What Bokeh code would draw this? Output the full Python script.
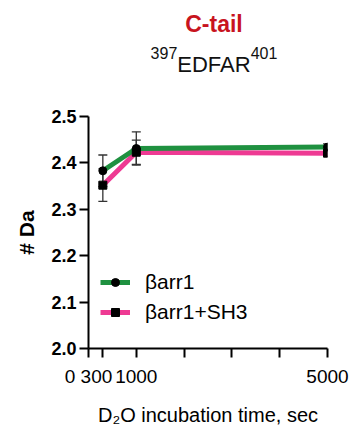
from bokeh.plotting import figure
from bokeh.models import (ColumnDataSource, Whisker, TeeHead, Legend, LegendItem, Div,
                          FixedTicker, PrintfTickFormatter)
from bokeh.layouts import column
from bokeh.embed import file_html
from bokeh.resources import INLINE

# ---- data ----
times = [300, 1000, 5000]
arr1_mean = [2.383, 2.431, 2.434]
arr1_err = [0.034, 0.036, 0.007]
sh3_mean = [2.352, 2.423, 2.421]
sh3_err = [0.035, 0.026, 0.007]
series_names = ["βarr1", "βarr1+SH3"]
x_ticks = [0, 300, 1000, 2000, 3000, 4000, 5000]
x_tick_labels = {0: "0 300", 300: "", 1000: "1000", 2000: "", 3000: "", 4000: "", 5000: "5000"}
y_ticks = [2.0, 2.1, 2.2, 2.3, 2.4, 2.5]
title_text = "C-tail"
sub_left, sub_main, sub_right = "397", "EDFAR", "401"
x_label = "D₂O incubation time, sec"
y_label = "# Da"

GREEN = "#1f9140"
PINK = "#ee3a93"
FONT = "Liberation Sans"
HEAD_H = 90

sup_style = "font-size:16px; vertical-align:13px; line-height:0;"
head_html = (
    '<div style="width:353px; padding-left:75px; box-sizing:border-box; text-align:center; '
    "font-family:'Liberation Sans', Arial, sans-serif; color:#111111;\">"
    f'<div style="margin:10px 0 0 0; height:28px; line-height:28px; font-size:23px; '
    f'font-weight:bold; color:#c8141e;">{title_text}</div>'
    f'<div style="margin:14px 0 0 0; height:26px; line-height:26px; font-size:22px;">'
    f'<span style="{sup_style}">{sub_left}</span>{sub_main}<span style="{sup_style}">{sub_right}</span></div>'
    '</div>'
)
head = Div(text=head_html, width=353, height=HEAD_H, margin=(0, 0, 0, 0))

p = figure(width=353, height=428 - HEAD_H, x_range=(0, 5000), y_range=(2.0, 2.5),
           output_backend="svg", toolbar_location=None, margin=(0, 0, 0, 0),
           min_border_left=88, min_border_right=26, min_border_top=116 - HEAD_H, min_border_bottom=72)
p.outline_line_color = None
p.grid.visible = False

# axes
for ax in (p.xaxis[0], p.yaxis[0]):
    ax.axis_line_width = 2
    ax.axis_line_color = "black"
    ax.major_tick_line_width = 2
    ax.major_tick_line_color = "black"
    ax.major_tick_in = 0
    ax.major_tick_out = 9
    ax.minor_tick_line_color = None
    ax.major_label_text_font = FONT
    ax.major_label_text_color = "black"
    ax.axis_label_text_font = FONT
    ax.axis_label_text_color = "black"

p.yaxis.ticker = FixedTicker(ticks=y_ticks)
p.yaxis.formatter = PrintfTickFormatter(format="%.1f")
p.yaxis.major_label_text_font_size = "18px"
p.yaxis.major_label_text_font_style = "bold"
p.yaxis.major_label_standoff = 3
p.yaxis.axis_label = y_label
p.yaxis.axis_label_text_font_size = "21px"
p.yaxis.axis_label_text_font_style = "bold"
p.yaxis.axis_label_standoff = 10

p.xaxis.ticker = FixedTicker(ticks=x_ticks)
p.xaxis.major_label_overrides = x_tick_labels
p.xaxis.major_label_text_font_size = "19px"
p.xaxis.major_label_standoff = 8
p.xaxis.axis_label = x_label
p.xaxis.axis_label_text_font_size = "20px"
p.xaxis.axis_label_text_font_style = "normal"
p.xaxis.axis_label_standoff = 14

src1 = ColumnDataSource(dict(x=times, y=arr1_mean,
                             lo=[m - e for m, e in zip(arr1_mean, arr1_err)],
                             hi=[m + e for m, e in zip(arr1_mean, arr1_err)]))
src2 = ColumnDataSource(dict(x=times, y=sh3_mean,
                             lo=[m - e for m, e in zip(sh3_mean, sh3_err)],
                             hi=[m + e for m, e in zip(sh3_mean, sh3_err)]))

for src in (src1, src2):
    w = Whisker(source=src, base="x", lower="lo", upper="hi", line_color="#333333", line_width=1.3,
                upper_head=TeeHead(size=9, line_color="#333333", line_width=1.3),
                lower_head=TeeHead(size=9, line_color="#333333", line_width=1.3))
    p.add_layout(w)

l2 = p.line("x", "y", source=src2, line_color=PINK, line_width=5)
l1 = p.line("x", "y", source=src1, line_color=GREEN, line_width=5)
s2 = p.scatter("x", "y", source=src2, marker="square", size=8, fill_color="black", line_color="black")
s1 = p.scatter("x", "y", source=src1, marker="circle", size=8, fill_color="black", line_color="black")

legend = Legend(items=[LegendItem(label=series_names[0], renderers=[l1, s1]),
                       LegendItem(label=series_names[1], renderers=[l2, s2])],
                location=(12, 24), glyph_width=30, glyph_height=20, label_height=20,
                spacing=6, padding=0, margin=0, label_standoff=15,
                label_text_font=FONT, label_text_font_size="21px", label_text_color="black",
                background_fill_alpha=0, border_line_color=None)
p.add_layout(legend, "center")

page = column(head, p, spacing=0)
open("out.html", "w").write(file_html(page, INLINE))
